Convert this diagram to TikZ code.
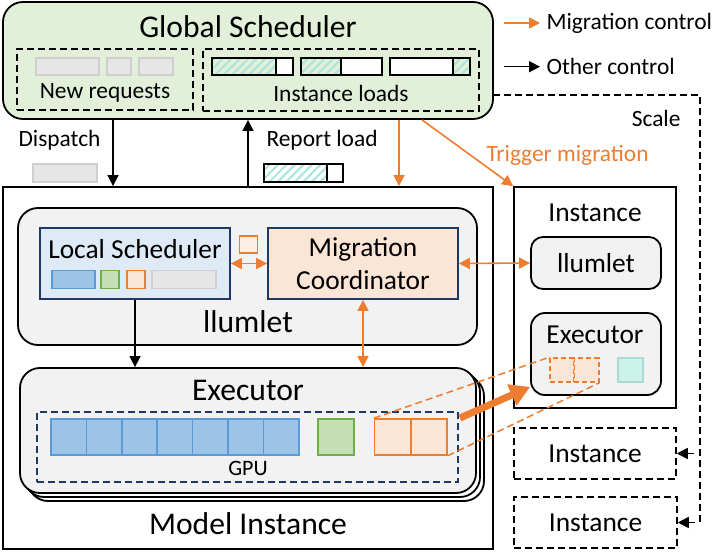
\documentclass[tikz,border=0pt]{standalone}
\usepackage{fontspec}
\setmainfont{Carlito}
\usetikzlibrary{arrows.meta,patterns.meta}

\definecolor{gsgreen}{HTML}{E2F0D9}
\definecolor{lsblue}{HTML}{DEEBF7}
\definecolor{navy}{HTML}{203864}
\definecolor{kvblue}{HTML}{9DC3E6}
\definecolor{kvblueline}{HTML}{5B9BD5}
\definecolor{kvgreen}{HTML}{C5E0B4}
\definecolor{kvgreenline}{HTML}{70AD47}
\definecolor{migorange}{HTML}{ED7D31}
\definecolor{kvorange}{HTML}{FBE5D6}
\definecolor{reqgrey}{HTML}{E7E6E6}
\definecolor{reqgreyline}{HTML}{D0CECE}
\definecolor{boxgrey}{HTML}{F2F2F2}
\definecolor{hatchteal}{HTML}{A9E5DD}
\definecolor{kvteal}{HTML}{CCF2EA}
\definecolor{kvtealline}{HTML}{A6DCD2}

\tikzset{
  box/.style={draw, line width=1.8pt, inner sep=0pt},
  rbox/.style={box, rounded corners=20pt},
  dbox/.style={draw, line width=1.5pt, dash pattern=on 7pt off 4pt, inner sep=0pt},
  cell/.style={draw, line width=1.5pt, inner sep=0pt},
  reqbox/.style={cell, draw=reqgreyline, fill=reqgrey},
  loadbox/.style={cell, draw=black, fill=white},
  hatch/.style={loadbox, pattern={Lines[angle=45,distance=6pt,line width=2pt]}, pattern color=hatchteal},
  big/.style={font=\fontsize{31.6}{36}\selectfont},
  mid/.style={font=\fontsize{27.4}{33}\selectfont},
  small/.style={font=\fontsize{23.4}{28}\selectfont},
  ctrl/.style={-{Triangle[length=11pt,width=11pt]}, line width=1.6pt},
  mig/.style={ctrl, migorange},
  migboth/.style={{Triangle[length=11pt,width=11pt]}-{Triangle[length=11pt,width=11pt]}, line width=1.6pt, migorange},
  migdash/.style={migorange, line width=1.5pt, dash pattern=on 7pt off 4pt},
}

\begin{document}
\begin{tikzpicture}[x=1pt,y=-1pt]
  \useasboundingbox (0,0) rectangle (714,553);

  % Global Scheduler
  \node[rbox, fill=gsgreen, minimum width=490pt, minimum height=117pt] (gs) at (248,60.5) {};
  \node[big] (gstitle) at (248,27) {Global Scheduler};
  \node[dbox, minimum width=176pt, minimum height=61pt] (newreq) at (105,79.5) {};
  \node[reqbox, minimum width=63pt, minimum height=17pt] (req1) at (67.5,66.5) {};
  \node[reqbox, minimum width=24pt, minimum height=17pt] (req2) at (119,66.5) {};
  \node[reqbox, minimum width=34pt, minimum height=17pt] (req3) at (156,66.5) {};
  \node[small] (newreqlbl) at (105,93) {New requests};
  \node[dbox, minimum width=276pt, minimum height=62pt] (loads) at (341,80) {};
  \node[hatch, minimum width=64pt, minimum height=17pt] (load1a) at (244,66.7) {};
  \node[loadbox, minimum width=17pt, minimum height=17pt] (load1b) at (284.5,66.7) {};
  \node[hatch, minimum width=40pt, minimum height=17pt] (load2a) at (321,66.7) {};
  \node[loadbox, minimum width=41pt, minimum height=17pt] (load2b) at (361.5,66.7) {};
  \node[loadbox, minimum width=63pt, minimum height=17pt] (load3a) at (421.5,66.7) {};
  \node[hatch, minimum width=17pt, minimum height=17pt] (load3b) at (461.5,66.7) {};
  \node[small] (loadslbl) at (341,93) {Instance loads};

  % Legende
  \coordinate (legm1) at (504,23);
  \coordinate (legm2) at (540,23);
  \draw[mig] (legm1) -- (legm2);
  \node[small, anchor=west] (legmig) at (543,23) {Migration control};
  \coordinate (lego1) at (504,66.7);
  \coordinate (lego2) at (540,66.7);
  \draw[ctrl] (lego1) -- (lego2);
  \node[small, anchor=west] (legoth) at (543,66.7) {Other control};

  % Model Instance
  \node[box, minimum width=490pt, minimum height=362pt] (mi) at (248,368) {};
  \node[big] (milbl) at (248,524) {Model Instance};

  % Dispatch / Report load
  \coordinate (dispx) at (113,0);
  \draw[ctrl] (gs.south -| dispx) -- (mi.north -| dispx);
  \node[small, anchor=west] (displbl) at (15,140) {Dispatch};
  \node[reqbox, minimum width=64pt, minimum height=18pt] (dispreq) at (65,173) {};
  \draw[ctrl] (mi.north) -- (gs.south);
  \node[small, anchor=west] (replbl) at (263,140) {Report load};
  \node[hatch, minimum width=63pt, minimum height=18pt] (repa) at (295.5,173) {};
  \node[loadbox, minimum width=16pt, minimum height=18pt] (repb) at (335,173) {};

  % Instance a droite
  \node[box, minimum width=162pt, minimum height=221pt] (inst) at (595,297.5) {};
  \node[mid] (instlbl) at (595,213) {Instance};
  \node[box, rounded corners=12pt, fill=boxgrey, minimum width=130pt, minimum height=52pt, mid] (ill) at (596,263) {llumlet};
  \node[box, rounded corners=14pt, fill=boxgrey, minimum width=130pt, minimum height=82pt] (rexec) at (596,354) {};
  \node[mid] (rexeclbl) at (595,335) {Executor};
  \node[cell, fill=kvorange, draw=migorange, dash pattern=on 5pt off 3pt, minimum width=24pt, minimum height=24pt] (rcell1) at (562,370) {};
  \node[cell, fill=kvorange, draw=migorange, dash pattern=on 5pt off 3pt, minimum width=24.5pt, minimum height=24pt] (rcell2) at (586.5,370) {};
  \node[cell, fill=kvteal, draw=kvtealline, minimum width=25pt, minimum height=24pt] (rcell3) at (630.5,370) {};

  % Trigger migration
  \coordinate (migx) at (399,0);
  \coordinate (trigx) at (422,0);
  \draw[mig] (gs.south -| migx) -- (mi.north -| migx);
  \draw[mig] (gs.south -| trigx) -- (inst.north west);
  \node[small, anchor=west, text=migorange] (triglbl) at (483,155) {Trigger migration};

  % Scale
  \node[dbox, minimum width=162pt, minimum height=51pt, mid] (inst2) at (595,453.5) {Instance};
  \node[dbox, minimum width=163pt, minimum height=51pt, mid] (inst3) at (595.5,522.5) {Instance};
  \coordinate (sc0) at (493,95);
  \coordinate (sc1) at (700,95);
  \coordinate (sc2) at (700,523);
  \draw[line width=1.5pt, dash pattern=on 7pt off 4pt] (sc0) -- (sc1) -- (sc2);
  \node[small, anchor=east] (scalelbl) at (684,118) {Scale};
  \draw[ctrl] ([xshift=17pt]inst2.east) -- (inst2.east);
  \draw[ctrl] ([xshift=17pt]inst3.east) -- (inst3.east);

  % llumlet
  \node[rbox, fill=boxgrey, minimum width=459pt, minimum height=137pt] (llum) at (247.5,276.5) {};
  \node[big] (llumlbl) at (248,322) {llumlet};
  \node[box, draw=navy, fill=lsblue, minimum width=190pt, minimum height=71pt] (lsched) at (135,263.5) {};
  \node[mid] (lschedlbl) at (135,249) {Local Scheduler};
  \node[cell, draw=kvblueline, fill=kvblue, minimum width=43pt, minimum height=18pt] (lsq1) at (73.5,279.5) {};
  \node[cell, draw=kvgreenline, fill=kvgreen, minimum width=18pt, minimum height=18pt] (lsq2) at (110,279.5) {};
  \node[cell, draw=migorange, fill=kvorange, minimum width=18pt, minimum height=18pt] (lsq3) at (136,279.5) {};
  \node[reqbox, minimum width=64pt, minimum height=18pt] (lsq4) at (184,279.5) {};
  \node[cell, draw=migorange, fill=kvorange!60!white, minimum width=18pt, minimum height=17pt] (msgsq) at (248.5,244.5) {};
  \node[box, draw=navy, fill=kvorange, minimum width=190pt, minimum height=71pt, align=center, mid] (mc) at (363,263.5) {Migration\\Coordinator};
  \draw[migboth] (lsched.east) -- (mc.west);
  \draw[migboth] (mc.east) -- (ill.west);

  % Executor (pile)
  \node[rbox, fill=white, minimum width=456pt, minimum height=125pt] (exec3) at (256,438.5) {};
  \node[rbox, fill=white, minimum width=456pt, minimum height=125pt] (exec2) at (252,434.5) {};
  \node[rbox, fill=boxgrey, minimum width=456pt, minimum height=125pt] (exec) at (248,430.5) {};
  \node[big] (execlbl) at (248,390) {Executor};
  \draw[ctrl] (lsched.south) -- (exec.north -| lsched.south);
  \draw[migboth] (mc.south) -- (exec.north -| mc.south);
  \node[dbox, draw=navy, minimum width=421pt, minimum height=70pt] (gpu) at (247.5,447) {};
  \node[font=\fontsize{22}{26}\selectfont] (gpulbl) at (248,468) {GPU};
  \foreach \i in {0,...,6}
    \node[cell, draw=kvblueline, fill=kvblue, minimum width=35.4pt, minimum height=36pt] (blk\i) at (68.7+35.4*\i,437) {};
  \node[cell, draw=kvgreenline, fill=kvgreen, minimum width=36pt, minimum height=36pt] (gblk) at (336,437) {};
  \node[cell, draw=migorange, fill=kvorange, minimum width=36pt, minimum height=36pt] (oblk1) at (392.5,437) {};
  \node[cell, draw=migorange, fill=kvorange, minimum width=36pt, minimum height=36pt] (oblk2) at (429,437) {};

  % Migration du cache
  \draw[migdash] (oblk1.north west) -- (rcell1.north west);
  \draw[migdash] (oblk2.south east) -- (rcell2.south east);
  \coordinate (thk) at (460,418);
  \draw[migorange, line width=7pt, -{Triangle[length=20pt,width=22pt]}] (thk) -- ([yshift=9pt]rexec.south west);
\end{tikzpicture}
\end{document}
